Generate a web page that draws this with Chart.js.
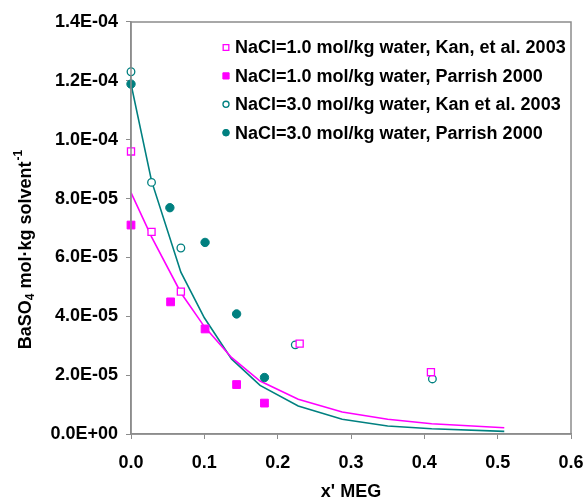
<!DOCTYPE html>
<html>
<head>
<meta charset="utf-8">
<script src="https://cdn.jsdelivr.net/npm/chart.js@4.4.1/dist/chart.umd.min.js"></script>
<style>
  html, body { margin: 0; padding: 0; background: #ffffff; }
  #wrap { width: 587px; height: 501px; }
</style>
</head>
<body>
<div id="wrap"><canvas id="c" width="587" height="501"></canvas></div>
<script>
// ---- data ----
const seriesLabels = [
  "NaCl=1.0 mol/kg water, Kan, et al. 2003",
  "NaCl=1.0 mol/kg water, Parrish 2000",
  "NaCl=3.0 mol/kg water, Kan et al. 2003",
  "NaCl=3.0 mol/kg water, Parrish 2000"
];
const kan1X = [0, 0.028, 0.068, 0.230, 0.409];
const kan1Y = [9.6e-5, 6.87e-5, 4.84e-5, 3.07e-5, 2.10e-5];
const parrish1X = [0, 0.054, 0.101, 0.144, 0.182];
const parrish1Y = [7.10e-5, 4.49e-5, 3.57e-5, 1.68e-5, 1.05e-5];
const kan3X = [0, 0.028, 0.068, 0.224, 0.411];
const kan3Y = [1.231e-4, 8.55e-5, 6.32e-5, 3.03e-5, 1.87e-5];
const parrish3X = [0, 0.053, 0.101, 0.144, 0.182];
const parrish3Y = [1.189e-4, 7.69e-5, 6.51e-5, 4.08e-5, 1.92e-5];
const modelX = [0, 0.028, 0.068, 0.100, 0.137, 0.176, 0.228, 0.288, 0.350, 0.410, 0.509];
const model1Y = [8.2e-5, 6.7e-5, 4.8e-5, 3.65e-5, 2.6e-5, 1.8e-5, 1.18e-5, 7.5e-6, 5.0e-6, 3.5e-6, 2.1e-6];
const model3Y = [1.19e-4, 8.6e-5, 5.5e-5, 3.95e-5, 2.55e-5, 1.65e-5, 9.5e-6, 5.0e-6, 2.7e-6, 1.8e-6, 0.9e-6];
const xTickLabels = ["0.0", "0.1", "0.2", "0.3", "0.4", "0.5", "0.6"];
const yTickLabels = ["0.0E+00", "2.0E-05", "4.0E-05", "6.0E-05", "8.0E-05", "1.0E-04", "1.2E-04", "1.4E-04"];
const xTitle = "x' MEG";
const yTitleParts = ["BaSO", "4", " mol\u00B7kg solvent", "-1"];

// ---- styles ----
const MAGENTA = "#ff00ff";
const TEAL = "#008080";
const GRAY = "#8c8c8c";
const FONT = "'Liberation Sans', Arial, sans-serif";
const FSIZE = 18;

function pts(xs, ys) { return xs.map((x, i) => ({ x: x, y: ys[i] })); }

const datasets = [
  { label: seriesLabels[0], data: pts(kan1X, kan1Y), showLine: false, pointStyle: 'rect',
    pointRadius: 5, pointBorderWidth: 1.3, pointBackgroundColor: '#ffffff', pointBorderColor: MAGENTA, clip: false, legend: true },
  { label: seriesLabels[1], data: pts(parrish1X, parrish1Y), showLine: false, pointStyle: 'rect',
    pointRadius: 5.5, pointBorderWidth: 1, pointBackgroundColor: MAGENTA, pointBorderColor: MAGENTA, clip: false, legend: true },
  { label: seriesLabels[2], data: pts(kan3X, kan3Y), showLine: false, pointStyle: 'circle',
    pointRadius: 3.8, pointBorderWidth: 1.3, pointBackgroundColor: '#ffffff', pointBorderColor: TEAL, clip: false, legend: true },
  { label: seriesLabels[3], data: pts(parrish3X, parrish3Y), showLine: false, pointStyle: 'circle',
    pointRadius: 4.2, pointBorderWidth: 1, pointBackgroundColor: TEAL, pointBorderColor: TEAL, clip: false, legend: true },
  { label: 'model1', data: pts(modelX, model1Y), showLine: true, borderColor: MAGENTA, borderWidth: 1.6,
    pointRadius: 0, tension: 0, fill: false, legend: false },
  { label: 'model3', data: pts(modelX, model3Y), showLine: true, borderColor: TEAL, borderWidth: 1.6,
    pointRadius: 0, tension: 0, fill: false, legend: false }
];

const framePlugin = {
  id: 'frame',
  afterDraw(chart) {
    const { ctx, chartArea: a } = chart;
    ctx.save();
    ctx.strokeStyle = GRAY;
    ctx.lineWidth = 1.5;
    ctx.strokeRect(a.left, a.top, a.right - a.left, a.bottom - a.top);
    ctx.restore();
  },
  afterDatasetsDraw(chart) {
    // legend inside plot area
    const ctx = chart.ctx;
    ctx.save();
    let row = 0;
    chart.data.datasets.forEach((ds) => {
      if (!ds.legend) return;
      const y = 47.5 + row * 28.4;
      const x = 226;
      ctx.fillStyle = ds.pointBackgroundColor;
      ctx.strokeStyle = ds.pointBorderColor;
      ctx.lineWidth = ds.pointBorderWidth;
      Chart.helpers.drawPoint(ctx, { pointStyle: ds.pointStyle, radius: ds.pointRadius * 0.8, rotation: 0, borderWidth: ds.pointBorderWidth }, x, y);
      ctx.fillStyle = '#000000';
      ctx.font = "bold " + FSIZE + "px " + FONT;
      ctx.textAlign = 'left';
      ctx.textBaseline = 'middle';
      ctx.fillText(ds.label, 235, y + 1);
      row++;
    });
    ctx.restore();
  }
};

const yTitlePlugin = {
  id: 'ytitle',
  afterDraw(chart) {
    const ctx = chart.ctx;
    ctx.save();
    const big = "bold " + FSIZE + "px " + FONT;
    const small = "bold 12px " + FONT;
    ctx.font = big;
    const w0 = ctx.measureText(yTitleParts[0]).width;
    const w2 = ctx.measureText(yTitleParts[2]).width;
    ctx.font = small;
    const w1 = ctx.measureText(yTitleParts[1]).width;
    const w3 = ctx.measureText(yTitleParts[3]).width;
    const total = w0 + w1 + w2 + w3;
    ctx.translate(31, 250);
    ctx.rotate(-Math.PI / 2);
    ctx.fillStyle = '#000000';
    ctx.textAlign = 'left';
    ctx.textBaseline = 'alphabetic';
    let x = -total / 2;
    ctx.font = big; ctx.fillText(yTitleParts[0], x, 0); x += w0;
    ctx.font = small; ctx.fillText(yTitleParts[1], x, 3); x += w1;
    ctx.font = big; ctx.fillText(yTitleParts[2], x, 0); x += w2;
    ctx.font = small; ctx.fillText(yTitleParts[3], x + 1, -9);
    ctx.restore();
  }
};

new Chart(document.getElementById('c'), {
  type: 'scatter',
  data: { datasets: datasets },
  options: {
    responsive: false,
    animation: false,
    devicePixelRatio: 1,
    layout: { padding: { left: 0, top: 22, right: 16, bottom: 0 } },
    plugins: { legend: { display: false }, tooltip: { enabled: false }, title: { display: false } },
    scales: {
      x: {
        type: 'linear', min: 0, max: 0.6,
        afterFit(scale) { scale.height = 67; scale.paddingRight = 0; scale.paddingLeft = 0; },
        afterBuildTicks(scale) { scale.ticks = xTickLabels.map((t, i) => ({ value: i * 0.1 })); },
        ticks: {
          padding: 13,
          color: '#000000',
          font: { family: FONT, size: FSIZE, weight: 'bold' },
          callback: (v, i) => xTickLabels[i]
        },
        grid: { display: true, drawOnChartArea: false, drawTicks: true, tickLength: 5, color: GRAY, lineWidth: 1 },
        border: { display: true, color: GRAY, width: 1.5 },
        title: { display: true, text: xTitle, color: '#000000', padding: { top: 0, bottom: 0 },
          font: { family: FONT, size: FSIZE, weight: 'bold', lineHeight: 1 } }
      },
      y: {
        type: 'linear', min: 0, max: 1.4e-4,
        afterFit(scale) { scale.width = 131; scale.paddingTop = 0; scale.paddingBottom = 0; },
        afterBuildTicks(scale) { scale.ticks = yTickLabels.map((t, i) => ({ value: i * 2e-5 })); },
        ticks: {
          padding: 8,
          color: '#000000',
          font: { family: FONT, size: FSIZE, weight: 'bold' },
          callback: (v, i) => yTickLabels[i]
        },
        grid: { display: true, drawOnChartArea: false, drawTicks: true, tickLength: 5, color: GRAY, lineWidth: 1 },
        border: { display: true, color: GRAY, width: 1.5 }
      }
    }
  },
  plugins: [framePlugin, yTitlePlugin]
});
</script>
</body>
</html>
